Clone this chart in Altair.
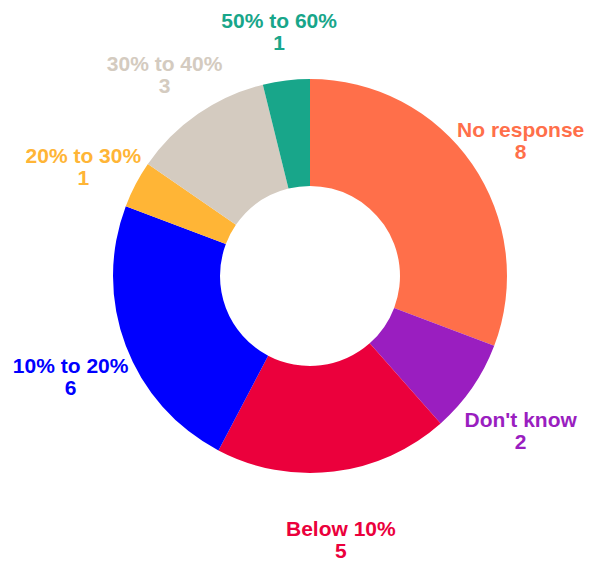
import altair as alt
import pandas as pd

categories = ["No response", "Don't know", "Below 10%", "10% to 20%", "20% to 30%", "30% to 40%", "50% to 60%"]
counts = [8, 2, 5, 6, 1, 3, 1]
colors = ["#FF6F4A", "#9A1EC0", "#EB003C", "#0000FF", "#FFB536", "#D4CBC0", "#18A68A"]

df = pd.DataFrame({
    "category": categories,
    "count": counts,
    "order": list(range(len(categories))),
    "label": [f"{c}\n{n}" for c, n in zip(categories, counts)],
})

color = alt.Color("category:N", scale=alt.Scale(domain=categories, range=colors), legend=None)
base = alt.Chart(df).encode(
    theta=alt.Theta("count:Q", stack=True),
    order=alt.Order("order:Q"),
    color=color,
    x=alt.value(302),
    y=alt.value(268),
)

arcs = base.mark_arc(outerRadius=197, innerRadius=90)
labels = base.mark_text(
    radius=256, font="Liberation Sans", fontWeight="bold", fontSize=21,
    lineBreak="\n", lineHeight=22, align="center", baseline="middle"
).encode(text="label:N")

chart = (arcs + labels).properties(width=580, height=550, padding=0).configure_view(stroke=None)
chart.save("out.html", embed_options={"renderer": "svg", "actions": False})
